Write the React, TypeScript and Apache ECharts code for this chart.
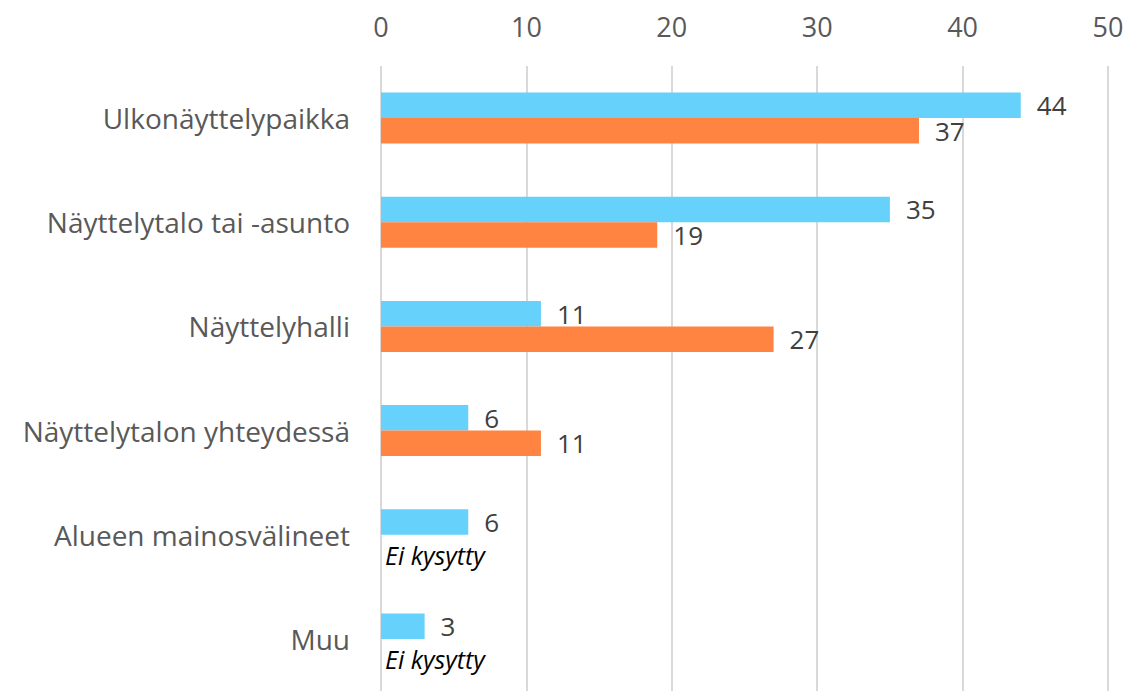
import React, { useEffect, useRef } from "react";
import * as echarts from "echarts";

const categories = [
  "Ulkonäyttelypaikka",
  "Näyttelytalo tai -asunto",
  "Näyttelyhalli",
  "Näyttelytalon yhteydessä",
  "Alueen mainosvälineet",
  "Muu",
];
const seriesA = [44, 35, 11, 6, 6, 3];
const seriesB: (number | null)[] = [37, 19, 27, 11, null, null];
const notAskedLabel = "Ei kysytty";
const xTicks = { min: 0, max: 50, interval: 10 };

const FONT = "'Open Sans', 'Liberation Sans', sans-serif";

export default function App() {
  const ref = useRef<HTMLDivElement>(null);
  useEffect(() => {
    if (!ref.current) return;
    const chart = echarts.init(ref.current, undefined, { renderer: "svg" });
    const bData = seriesB.map((v) =>
      v === null
        ? {
            value: 0,
            itemStyle: { color: "rgba(0,0,0,0)" },
            label: {
              show: true,
              position: "right",
              distance: 4,
              offset: [0, 7],
              formatter: notAskedLabel,
              fontStyle: "italic",
              color: "#000000",
              fontSize: 25,
              fontFamily: FONT,
            },
          }
        : { value: v }
    );
    chart.setOption({
      animation: false,
      textStyle: { fontFamily: FONT },
      grid: { left: 381, right: 22, top: 66, height: 630, containLabel: false },
      xAxis: {
        type: "value",
        position: "top",
        min: xTicks.min,
        max: xTicks.max,
        interval: xTicks.interval,
        axisLine: { show: false },
        axisTick: { show: false },
        axisLabel: { color: "#595959", fontSize: 27, margin: 26, fontFamily: FONT },
        splitLine: { show: true, lineStyle: { color: "#D9D9D9", width: 2 } },
      },
      yAxis: {
        type: "category",
        data: categories,
        inverse: true,
        axisLine: { show: false },
        axisTick: { show: false },
        axisLabel: { color: "#595959", fontSize: 28, margin: 31, fontFamily: FONT },
      },
      series: [
        {
          type: "bar",
          data: seriesA,
          barGap: "0%",
          barCategoryGap: "51%",
          itemStyle: { color: "#66D1FA" },
          label: {
            show: true,
            position: "right",
            distance: 16,
            color: "#404040",
            fontSize: 26,
            fontFamily: FONT,
          },
        },
        {
          type: "bar",
          data: bData,
          barGap: "0%",
          barCategoryGap: "51%",
          itemStyle: { color: "#FF8442" },
          label: {
            show: true,
            position: "right",
            distance: 16,
            color: "#404040",
            fontSize: 26,
            fontFamily: FONT,
          },
        },
      ],
    });
    return () => chart.dispose();
  }, []);
  return (
    <div
      ref={ref}
      style={{ position: "fixed", left: 0, top: 0, width: 1130, height: 691, background: "#ffffff" }}
    />
  );
}
